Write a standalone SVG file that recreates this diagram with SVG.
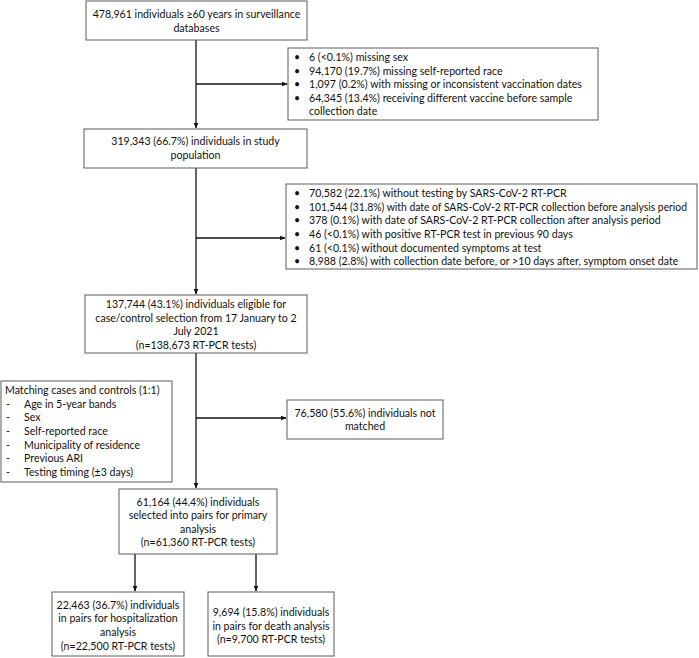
<svg xmlns="http://www.w3.org/2000/svg" width="699" height="658" viewBox="0 0 699 658">
<defs>
<style>
.box{fill:#fff;stroke:#5a5a5a;stroke-width:1}
text{font-family:Lato,"Liberation Sans",sans-serif;font-size:10.6px;fill:#111}
.c{text-anchor:middle}
.ln{stroke:#111;stroke-width:1.3;fill:none}
</style>
<marker id="ah" markerWidth="6" markerHeight="6" refX="5.5" refY="3" orient="auto" markerUnits="userSpaceOnUse">
<path d="M0,0.5 L6,3 L0,5.5 z" fill="#111"/>
</marker>
</defs>
<rect width="699" height="658" fill="#fff"/>
<g id="connectors">
<line class="ln" x1="196" y1="40" x2="196" y2="128" marker-end="url(#ah)"/>
<line class="ln" x1="196" y1="84" x2="287" y2="84" marker-end="url(#ah)"/>
<line class="ln" x1="196" y1="168" x2="196" y2="294" marker-end="url(#ah)"/>
<line class="ln" x1="196" y1="238" x2="285" y2="238" marker-end="url(#ah)"/>
<line class="ln" x1="196" y1="353" x2="196" y2="488" marker-end="url(#ah)"/>
<line class="ln" x1="196" y1="418" x2="286" y2="418" marker-end="url(#ah)"/>
<line class="ln" x1="135" y1="554" x2="135" y2="591" marker-end="url(#ah)"/>
<line class="ln" x1="256" y1="554" x2="256" y2="591" marker-end="url(#ah)"/>
</g>
<g id="n1">
<rect class="box" x="86" y="1" width="221" height="39"/>
<text class="c" x="196.5" y="18">478,961 individuals ≥60 years in surveillance</text>
<text class="c" x="196.5" y="32">databases</text>
</g>
<g id="n2">
<rect class="box" x="288" y="48" width="310" height="72"/>
<text x="294" y="61">•</text><text x="309" y="61">6 (&lt;0.1%) missing sex</text>
<text x="294" y="75">•</text><text x="309" y="75">94,170 (19.7%) missing self-reported race</text>
<text x="294" y="88">•</text><text x="309" y="88">1,097 (0.2%) with missing or inconsistent vaccination dates</text>
<text x="294" y="102">•</text><text x="309" y="102">64,345 (13.4%) receiving different vaccine before sample</text>
<text x="309" y="115">collection date</text>
</g>
<g id="n3">
<rect class="box" x="84" y="129" width="223" height="39"/>
<text class="c" x="195.5" y="145">319,343 (66.7%) individuals in study</text>
<text class="c" x="195.5" y="159">population</text>
</g>
<g id="n4">
<rect class="box" x="286" y="184" width="411" height="85"/>
<text x="294" y="197">•</text><text x="309" y="197">70,582 (22.1%) without testing by SARS-CoV-2 RT-PCR</text>
<text x="294" y="211">•</text><text x="309" y="211" textLength="378" lengthAdjust="spacingAndGlyphs">101,544 (31.8%) with date of SARS-CoV-2 RT-PCR collection before analysis period</text>
<text x="294" y="224">•</text><text x="309" y="224">378 (0.1%) with date of SARS-CoV-2 RT-PCR collection after analysis period</text>
<text x="294" y="238">•</text><text x="309" y="238">46 (&lt;0.1%) with positive RT-PCR test in previous 90 days</text>
<text x="294" y="252">•</text><text x="309" y="252">61 (&lt;0.1%) without documented symptoms at test</text>
<text x="294" y="265">•</text><text x="309" y="265">8,988 (2.8%) with collection date before, or &gt;10 days after, symptom onset date</text>
</g>
<g id="n5">
<rect class="box" x="85" y="295" width="222" height="58"/>
<text class="c" x="196" y="308">137,744 (43.1%) individuals eligible for</text>
<text class="c" x="196" y="322">case/control selection from 17 January to 2</text>
<text class="c" x="196" y="335">July 2021</text>
<text class="c" x="196" y="349">(n=138,673 RT-PCR tests)</text>
</g>
<g id="n6">
<rect class="box" x="1" y="381" width="171" height="101"/>
<text x="5" y="394">Matching cases and controls (1:1)</text>
<text x="6" y="408">-</text><text x="24" y="408">Age in 5-year bands</text>
<text x="6" y="421">-</text><text x="24" y="421">Sex</text>
<text x="6" y="435">-</text><text x="24" y="435">Self-reported race</text>
<text x="6" y="449">-</text><text x="24" y="449">Municipality of residence</text>
<text x="6" y="462">-</text><text x="24" y="462">Previous ARI</text>
<text x="6" y="476">-</text><text x="24" y="476">Testing timing (±3 days)</text>
</g>
<g id="n7">
<rect class="box" x="287" y="400" width="156" height="39"/>
<text class="c" x="365" y="417">76,580 (55.6%) individuals not</text>
<text class="c" x="365" y="430">matched</text>
</g>
<g id="n8">
<rect class="box" x="119" y="489" width="158" height="65"/>
<text class="c" x="198" y="506">61,164 (44.4%) individuals</text>
<text class="c" x="198" y="519">selected into pairs for primary</text>
<text class="c" x="198" y="533">analysis</text>
<text class="c" x="198" y="546">(n=61,360 RT-PCR tests)</text>
</g>
<g id="n9">
<rect class="box" x="52" y="592" width="132" height="64"/>
<text class="c" x="118" y="609">22,463 (36.7%) individuals</text>
<text class="c" x="118" y="622">in pairs for hospitalization</text>
<text class="c" x="118" y="636">analysis</text>
<text class="c" x="118" y="650">(n=22,500 RT-PCR tests)</text>
</g>
<g id="n10">
<rect class="box" x="208" y="592" width="126" height="64"/>
<text class="c" x="271" y="616">9,694 (15.8%) individuals</text>
<text class="c" x="271" y="630">in pairs for death analysis</text>
<text class="c" x="271" y="643">(n=9,700 RT-PCR tests)</text>
</g>
</svg>
